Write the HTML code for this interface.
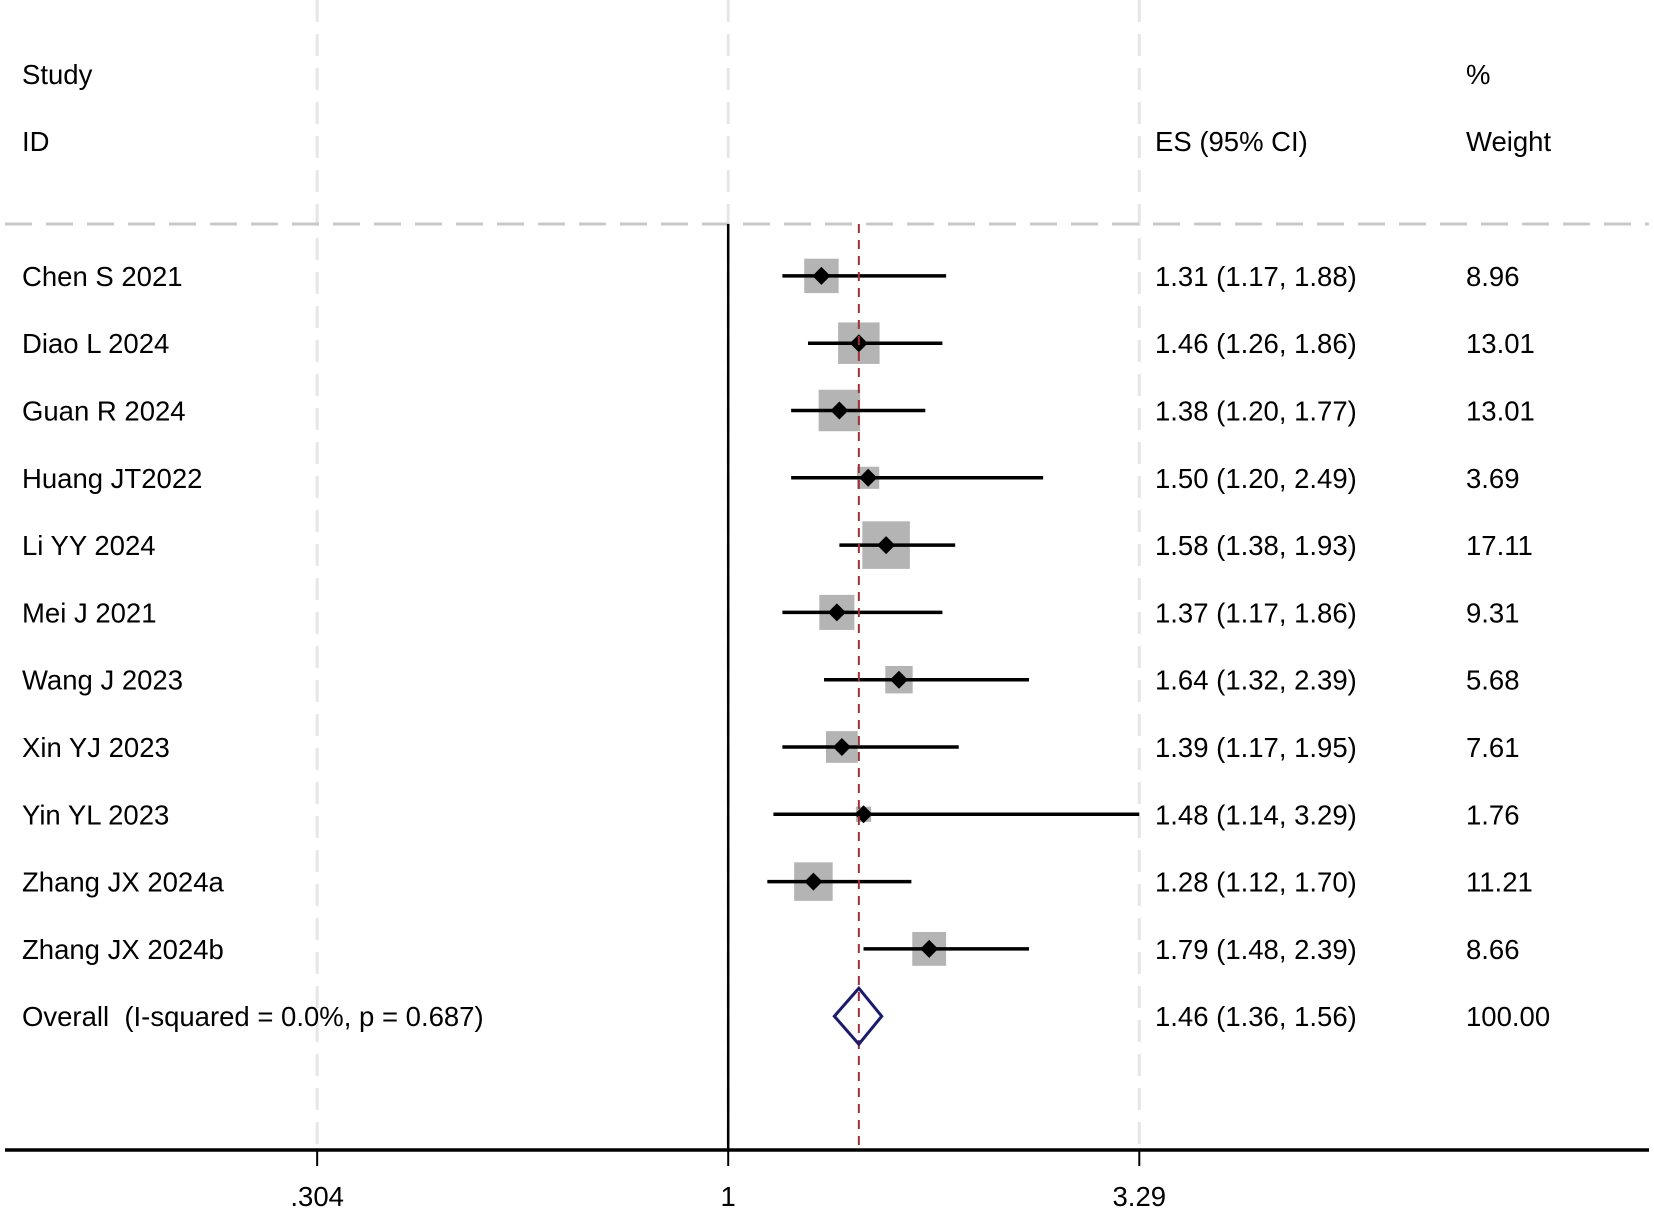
<!DOCTYPE html>
<html><head><meta charset="utf-8"><style>
body{margin:0;background:#fff}
svg text{font-family:"Liberation Sans",Arial,sans-serif;font-size:27.5px;fill:#000;white-space:pre}
</style></head><body>
<svg id="c" width="1654" height="1209" xmlns="http://www.w3.org/2000/svg"></svg>
<script>
const studies=["Chen S 2021","Diao L 2024","Guan R 2024","Huang JT2022","Li YY 2024","Mei J 2021","Wang J 2023","Xin YJ 2023","Yin YL 2023","Zhang JX 2024a","Zhang JX 2024b"];
const es=[1.31,1.46,1.38,1.50,1.58,1.37,1.64,1.39,1.48,1.28,1.79];
const lo=[1.17,1.26,1.20,1.20,1.38,1.17,1.32,1.17,1.14,1.12,1.48];
const hi=[1.88,1.86,1.77,2.49,1.93,1.86,2.39,1.95,3.29,1.70,2.39];
const weights=["8.96","13.01","13.01","3.69","17.11","9.31","5.68","7.61","1.76","11.21","8.66"];
const overall=[1.46,1.36,1.56];
const ticks=[0.304,1,3.29];
const tickLabels=[".304","1","3.29"];

const NS="http://www.w3.org/2000/svg",svg=document.getElementById('c');
const X=v=>728.2+345.2*Math.log(v);
const Y=i=>275.9+67.3*i;
function mk(t,a,p){const e=document.createElementNS(NS,t);for(const k in a)e.setAttribute(k,a[k]);(p||svg).appendChild(e);return e;}
function tx(x,y,s,anchor){const e=mk('text',{x:x,y:y,'text-anchor':anchor||'start'});e.textContent=s;return e;}
const topY=224,axY=1150,esX=1155,wX=1466;
ticks.forEach(t=>{const g=mk('line',{x1:X(t),x2:X(t),y1:0,y2:axY,stroke:'#e6e6e6','stroke-width':3,'stroke-dasharray':'22,12'});

});
const hl=mk('line',{x1:5,x2:1649,y1:topY,y2:topY,stroke:'#c8c8c8','stroke-width':3,'stroke-dasharray':'27,14'});


[["Study",22,84],["ID",22,151],["ES (95% CI)",esX,151],["%",wX,84],["Weight",wX,151]].forEach(h=>{const e=tx(h[1],h[2],h[0]);

});
const nl=mk('line',{x1:X(1),x2:X(1),y1:topY,y2:axY,stroke:'#000','stroke-width':2.5});


studies.forEach((s,i)=>{const y=Y(i);
const side=11.5*Math.sqrt(parseFloat(weights[i]));
const b=mk('rect',{x:X(es[i])-side/2,y:y-side/2,width:side,height:side,fill:'#b4b4b4'});


const l=mk('line',{x1:X(lo[i]),x2:X(hi[i]),y1:y,y2:y,stroke:'#000','stroke-width':3.5});


const x=X(es[i]);
const d=mk('polygon',{points:`${x-9},${y} ${x},${y-9} ${x+9},${y} ${x},${y+9}`,fill:'#000'});


const a=tx(22,y+10,s);


const c=tx(esX,y+10,`${es[i].toFixed(2)} (${lo[i].toFixed(2)}, ${hi[i].toFixed(2)})`);


const w=tx(wX,y+10,weights[i]);


});
const rl=mk('line',{x1:X(overall[0]),x2:X(overall[0]),y1:topY,y2:axY,stroke:'#a0303a','stroke-width':2,'stroke-dasharray':'9,7'});


const oy=Y(11);
const od=mk('polygon',{points:`${X(overall[1])},${oy} ${X(overall[0])},${oy-28} ${X(overall[2])},${oy} ${X(overall[0])},${oy+28}`,fill:'none',stroke:'#1a1a6e','stroke-width':3});


const ol=tx(22,oy+10,"Overall  (I-squared = 0.0%, p = 0.687)");


const oc=tx(esX,oy+10,`${overall[0].toFixed(2)} (${overall[1].toFixed(2)}, ${overall[2].toFixed(2)})`);


const ow=tx(wX,oy+10,"100.00");


const ax=mk('line',{x1:5,x2:1649,y1:axY,y2:axY,stroke:'#000','stroke-width':3.5});


ticks.forEach((t,i)=>{const tk=mk('line',{x1:X(t),x2:X(t),y1:axY,y2:axY+16,stroke:'#000','stroke-width':2});


const lb=tx(X(t),axY+56,tickLabels[i],'middle');

});
</script>
</body></html>
